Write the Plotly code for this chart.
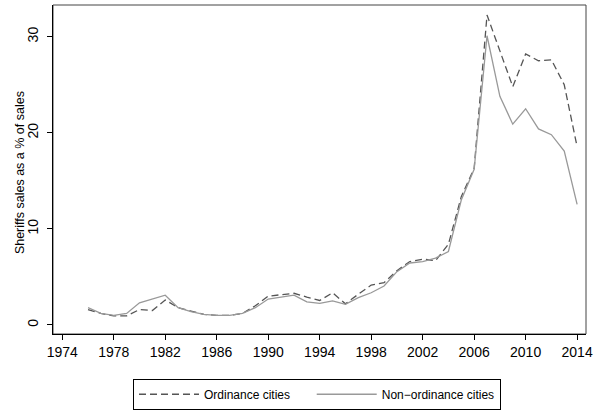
import plotly.graph_objects as go

years = list(range(1976, 2015))

ordinance = [1.6, 1.2, 0.95, 0.95, 1.6, 1.5, 2.6, 1.8, 1.45, 1.1,
             1.0, 1.0, 1.2, 2.0, 3.0, 3.15, 3.3, 2.9, 2.55, 3.35,
             2.2, 3.2, 4.15, 4.4, 5.65, 6.6, 6.85, 6.7, 8.4, 13.35,
             16.3, 32.25, 28.6, 24.8, 28.2, 27.5, 27.6, 25.0, 18.55]

non_ordinance = [1.8, 1.2, 1.0, 1.2, 2.3, 2.7, 3.1, 1.8, 1.4, 1.1,
                 1.0, 1.0, 1.2, 1.8, 2.7, 2.9, 3.1, 2.4, 2.25, 2.5,
                 2.15, 2.85, 3.35, 4.05, 5.55, 6.45, 6.6, 6.95, 7.65, 13.0,
                 16.2, 30.1, 23.8, 20.9, 22.5, 20.4, 19.8, 18.1, 12.55]

series_names = ["Ordinance cities", "Non\u2212ordinance cities"]

x_ticks = list(range(1974, 2015, 4))
y_ticks = [0, 10, 20, 30]

font_family = "Liberation Sans, Arial, sans-serif"
pad = "\u00a0" * 5  # extra room between the two legend entries

fig = go.Figure()
fig.add_trace(go.Scatter(
    x=years, y=ordinance, mode="lines", name=series_names[0] + pad,
    line=dict(color="#555555", width=1.3, dash="7px,4px"),
))
fig.add_trace(go.Scatter(
    x=years, y=non_ordinance, mode="lines", name=series_names[1],
    line=dict(color="#999999", width=1.3),
))

# Box around the plotting region (top/right sides in grey)
fig.add_shape(type="rect", xref="paper", yref="paper", x0=0, y0=0, x1=1, y1=1,
              line=dict(color="#444444", width=1), layer="below")

# Vertical y-axis title
fig.add_annotation(
    text="Sheriffs sales as a % of sales", textangle=-90,
    xref="paper", yref="paper", x=(20 - 53) / 533, y=0.489,
    xanchor="center", yanchor="middle", showarrow=False,
    font=dict(size=12.5, family=font_family, color="black"),
)

fig.update_layout(
    width=603, height=411,
    margin=dict(l=53, r=17, t=5, b=77, autoexpand=False),
    paper_bgcolor="white", plot_bgcolor="white",
    font=dict(family=font_family, color="black"),
    showlegend=True,
    legend=dict(
        orientation="h", xanchor="left", yanchor="bottom",
        xref="container", yref="container",
        x=133 / 603, y=0.003,
        bordercolor="black", borderwidth=1,
        font=dict(size=12, family=font_family),
        itemwidth=60,
    ),
    xaxis=dict(
        range=[1973.28, 2014.69],
        tickvals=x_ticks, ticktext=[str(v) for v in x_ticks],
        ticks="outside", ticklen=5, tickwidth=1, tickcolor="black",
        showline=True, linecolor="black", linewidth=1.3,
        showgrid=False, zeroline=False,
        tickfont=dict(size=14),
    ),
    yaxis=dict(
        range=[-0.94, 33.3],
        tickvals=y_ticks, ticktext=[str(v) for v in y_ticks],
        tickangle=-90, ticklabelstandoff=3,
        ticks="outside", ticklen=5, tickwidth=1, tickcolor="black",
        showline=True, linecolor="black", linewidth=1.3,
        showgrid=False, zeroline=False,
        tickfont=dict(size=14),
    ),
)

fig.write_html("out.html")
